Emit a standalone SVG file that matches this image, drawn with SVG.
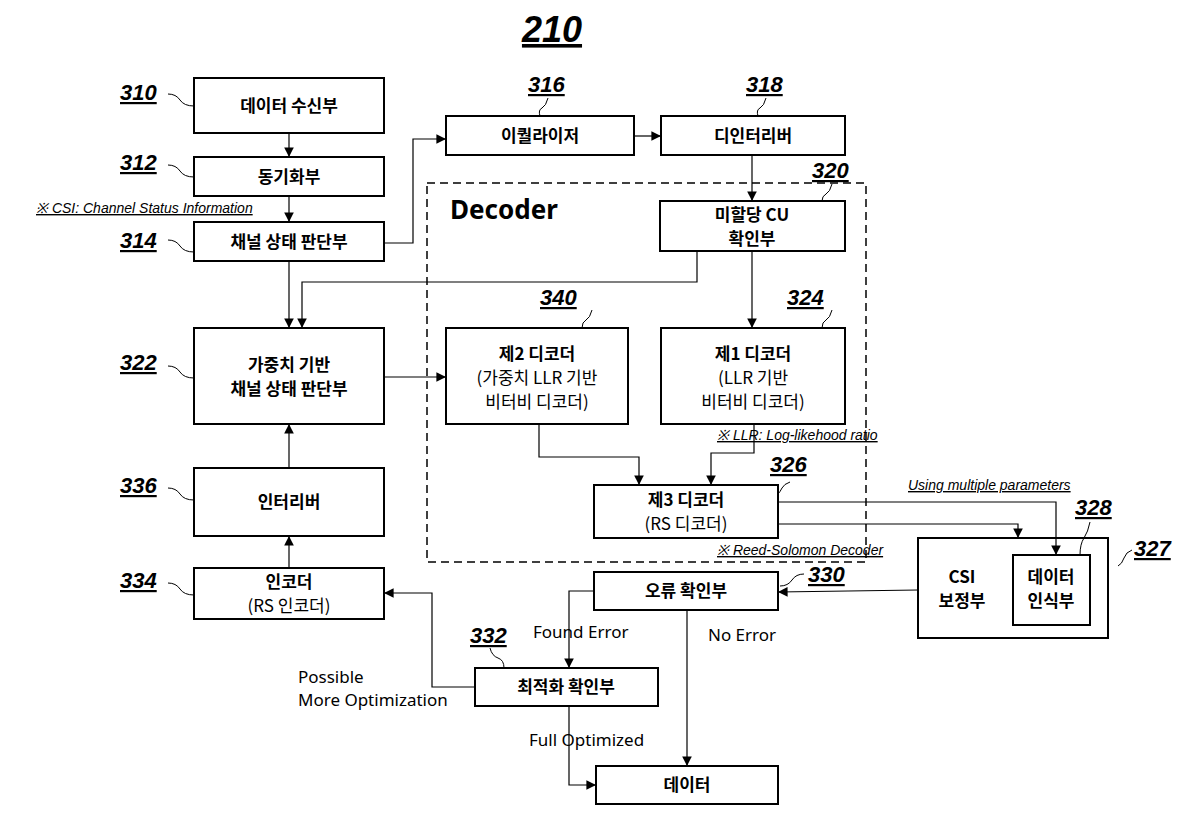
<svg xmlns="http://www.w3.org/2000/svg" width="1200" height="825" viewBox="0 0 1200 825">
<defs>
<marker id="a" viewBox="0 0 10 10" refX="10" refY="5" markerWidth="8" markerHeight="8" orient="auto"><path d="M0,0 L10,5 L0,10 z" fill="#000"/></marker>
<style>
.b{fill:#fff;stroke:#000;stroke-width:2}
.t{font-family:"Noto Sans CJK KR","Noto Sans",sans-serif;font-size:17px;text-anchor:middle;fill:#000}
.tb{font-weight:bold}
.n{font-family:"Liberation Sans",sans-serif;font-style:italic;font-weight:bold;font-size:22px;text-decoration:underline;fill:#000}
.s{font-family:"Liberation Sans",sans-serif;font-style:italic;font-size:14px;text-decoration:underline;fill:#000}
.e{font-family:"Noto Sans","Noto Sans CJK KR",sans-serif;font-size:17px;fill:#000}
.c{fill:none;stroke:#000;stroke-width:1.2}
.q{fill:none;stroke:#000;stroke-width:1}
</style>
</defs>
<rect width="1200" height="825" fill="#fff"/>
<text x="552" y="42" class="n" style="font-size:36px" text-anchor="middle">210</text>
<rect x="427" y="183" width="439" height="379" fill="none" stroke="#000" stroke-width="1.5" stroke-dasharray="8,5"/>
<text x="450" y="219" font-family="Noto Sans,sans-serif" font-weight="bold" font-size="26">Decoder</text>
<text x="36" y="213" class="s">※ CSI: Channel Status Information</text>
<text x="717" y="440" class="s">※ LLR: Log-likehood ratio</text>
<text x="717" y="555" class="s">※ Reed-Solomon Decoder</text>
<text x="908" y="490" class="s">Using multiple parameters</text>

<g id="n310"><rect class="b" x="194" y="78" width="190" height="55"/><text class="t tb" x="289" y="112">데이터 수신부</text><text class="n" x="120" y="100">310</text><path class="q" d="M168,94 q8,0 12,6 t14,6"/></g>
<g id="n312"><rect class="b" x="194" y="157" width="190" height="39"/><text class="t tb" x="289" y="183">동기화부</text><text class="n" x="120" y="170">312</text><path class="q" d="M168,165 q8,0 12,6 t14,6"/></g>
<g id="n314"><rect class="b" x="194" y="222" width="190" height="39"/><text class="t tb" x="289" y="248">채널 상태 판단부</text><text class="n" x="120" y="248">314</text><path class="q" d="M168,240 q8,0 12,6 t14,6"/></g>
<g id="n316"><rect class="b" x="446" y="116" width="188" height="39"/><text class="t tb" x="540" y="142">이퀄라이저</text><text class="n" x="528" y="92">316</text><path class="q" d="M548,98 q-2,8 -6,10 t-2,8"/></g>
<g id="n318"><rect class="b" x="661" y="116" width="184" height="39"/><text class="t tb" x="753" y="142">디인터리버</text><text class="n" x="746" y="92">318</text><path class="q" d="M766,98 q-2,8 -6,10 t-2,8"/></g>
<g id="n320"><rect class="b" x="660" y="201" width="185" height="50"/><text class="t tb" x="752" y="221">미할당 CU</text><text class="t tb" x="752" y="245">확인부</text><text class="n" x="812" y="178">320</text><path class="q" d="M832,184 q-2,8 -6,10 t-4,7"/></g>
<g id="n340"><rect class="b" x="446" y="328" width="182" height="96"/><text class="t tb" x="537" y="360">제2 디코더</text><text class="t" x="537" y="384">(가중치 LLR 기반</text><text class="t" x="537" y="408">비터비 디코더)</text><text class="n" x="540" y="305">340</text><path class="q" d="M592,310 q-2,8 -6,10 t-4,8"/></g>
<g id="n324"><rect class="b" x="661" y="328" width="184" height="96"/><text class="t tb" x="753" y="360">제1 디코더</text><text class="t" x="753" y="384">(LLR 기반</text><text class="t" x="753" y="408">비터비 디코더)</text><text class="n" x="787" y="305">324</text><path class="q" d="M832,310 q-2,8 -6,10 t-4,8"/></g>
<g id="n322"><rect class="b" x="194" y="328" width="190" height="96"/><text class="t tb" x="289" y="371">가중치 기반</text><text class="t tb" x="289" y="395">채널 상태 판단부</text><text class="n" x="120" y="370">322</text><path class="q" d="M168,366 q8,0 12,6 t14,6"/></g>
<g id="n336"><rect class="b" x="194" y="468" width="190" height="68"/><text class="t tb" x="289" y="508">인터리버</text><text class="n" x="120" y="493">336</text><path class="q" d="M168,488 q8,0 12,6 t14,6"/></g>
<g id="n334"><rect class="b" x="194" y="568" width="190" height="51"/><text class="t tb" x="289" y="588">인코더</text><text class="t" x="289" y="612">(RS 인코더)</text><text class="n" x="120" y="588">334</text><path class="q" d="M168,583 q8,0 12,6 t14,6"/></g>
<g id="n326"><rect class="b" x="594" y="485" width="184" height="53"/><text class="t tb" x="686" y="506">제3 디코더</text><text class="t" x="686" y="530">(RS 디코더)</text><text class="n" x="770" y="472">326</text><path class="q" d="M790,482 q-6,2 -8,6 t-4,6"/></g>
<g id="n327"><rect class="b" x="918" y="538" width="190" height="100"/><text class="t tb" x="962" y="583">CSI</text><text class="t tb" x="962" y="607">보정부</text><text class="n" x="1134" y="556">327</text><path class="q" d="M1132,550 q-6,2 -8,8 t-6,8"/></g>
<g id="n328"><rect class="b" x="1013" y="555" width="77" height="70"/><text class="t tb" x="1051" y="583">데이터</text><text class="t tb" x="1051" y="607">인식부</text><text class="n" x="1075" y="515">328</text><path class="q" d="M1090,522 q-2,10 -6,16 t-4,17"/></g>
<g id="n330"><rect class="b" x="594" y="572" width="184" height="38"/><text class="t tb" x="686" y="597">오류 확인부</text><text class="n" x="808" y="582">330</text><path class="q" d="M804,574 q-8,0 -12,6 t-12,6"/></g>
<g id="n332"><rect class="b" x="475" y="668" width="183" height="38"/><text class="t tb" x="566" y="693">최적화 확인부</text><text class="n" x="470" y="643">332</text><path class="q" d="M490,648 q2,8 8,10 t6,10"/></g>
<g id="n-data"><rect class="b" x="596" y="766" width="182" height="38"/><text class="t tb" x="687" y="791">데이터</text></g>

<g id="connectors">
<path class="c" d="M289,133 V157" marker-end="url(#a)"/>
<path class="c" d="M289,196 V222" marker-end="url(#a)"/>
<path class="c" d="M384,243 H413 V139 H446" marker-end="url(#a)"/>
<path class="c" d="M634,136 H661" marker-end="url(#a)"/>
<path class="c" d="M752,155 V201" marker-end="url(#a)"/>
<path class="c" d="M752,251 V328" marker-end="url(#a)"/>
<path class="c" d="M697,251 V282 H302 V328" marker-end="url(#a)"/>
<path class="c" d="M289,261 V328" marker-end="url(#a)"/>
<path class="c" d="M384,377 H446" marker-end="url(#a)"/>
<path class="c" d="M539,424 V457 H639 V485" marker-end="url(#a)"/>
<path class="c" d="M754,424 V453 H711 V485" marker-end="url(#a)"/>
<path class="c" d="M778,502 H1056 V555" marker-end="url(#a)"/>
<path class="c" d="M778,524 H1018 V538" marker-end="url(#a)"/>
<path class="c" d="M918,590 L778,592" marker-end="url(#a)"/>
<path class="c" d="M594,591 H569 V668" marker-end="url(#a)"/>
<path class="c" d="M687,610 V766" marker-end="url(#a)"/>
<path class="c" d="M569,706 V785 H596" marker-end="url(#a)"/>
<path class="c" d="M475,687 H432 V593 H384" marker-end="url(#a)"/>
<path class="c" d="M289,468 V424" marker-end="url(#a)"/>
<path class="c" d="M289,568 V536" marker-end="url(#a)"/>
</g>
<text class="e" x="533" y="638">Found Error</text>
<text class="e" x="708" y="641">No Error</text>
<text class="e" x="298" y="683">Possible</text>
<text class="e" x="298" y="706">More Optimization</text>
<text class="e" x="529" y="746">Full Optimized</text>
</svg>
